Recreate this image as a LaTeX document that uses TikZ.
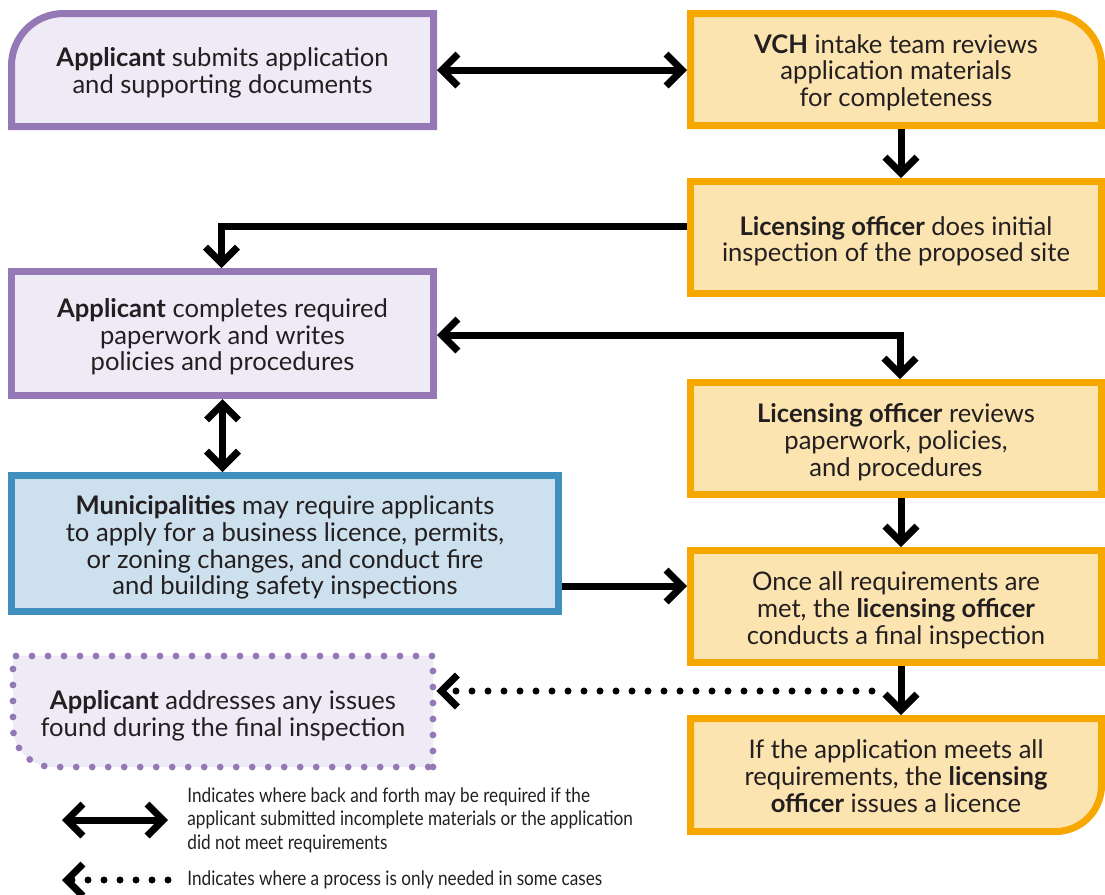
\documentclass[tikz,border=0pt]{standalone}
\usepackage{fontspec}
\setmainfont{Lato}
\newfontfamily\legendfont[FakeStretch=0.86]{Lato}
\usetikzlibrary{arrows.meta,backgrounds}

\definecolor{purpleline}{HTML}{9579B7}
\definecolor{purplefill}{HTML}{EFEBF6}
\definecolor{orangeline}{HTML}{F6A800}
\definecolor{orangefill}{HTML}{FCE4B0}
\definecolor{blueline}{HTML}{3F8FBF}
\definecolor{bluefill}{HTML}{CDE0EE}
\definecolor{ink}{HTML}{231F20}

\tikzset{
  frame/.style={inner sep=0pt, outer sep=1.75pt},
  steptext/.style={inner sep=0pt, align=center, text=ink,
    font=\fontsize{12.8}{13.4}\selectfont},
  purplebox/.style={frame, draw=purpleline, fill=purplefill, line width=3.5pt,
    minimum width=211pt},
  orangebox/.style={frame, draw=orangeline, fill=orangefill, line width=3.5pt,
    minimum width=205.5pt, minimum height=56pt},
  bluebox/.style={frame, draw=blueline, fill=bluefill, line width=3.5pt},
  pshape/.style={draw=purpleline, fill=purplefill, line width=3.5pt},
  oshape/.style={draw=orangeline, fill=orangefill, line width=3.5pt},
  dotshape/.style={draw=purpleline, fill=purplefill, line width=3.4pt,
    line cap=round, dash pattern=on 0pt off 8pt},
  chev/.tip={Straight Barb[length=8pt,width=16pt,sharp]},
  flow/.style={draw=black, line width=3.5pt, -chev},
  both/.style={draw=black, line width=3.5pt, chev-chev},
  maybe/.style={draw=black, line width=3.5pt, line cap=round,
    dash pattern=on 0pt off 8pt, -chev},
  legendtext/.style={inner sep=0pt, anchor=west, align=left, text=ink,
    font=\legendfont\fontsize{10}{11.75}\selectfont},
}

\begin{document}
\begin{tikzpicture}[x=0.5pt, y=-0.5pt]
\useasboundingbox (0,0) rectangle (1105,895);

% frames of the steps
\node[frame, minimum width=211pt, minimum height=56.5pt] (B1) at (222.5,70) {};
\node[frame, minimum width=205.5pt, minimum height=56pt] (B2) at (896,69.5) {};
\node[orangebox] (B3) at (896,237.5) {};
\node[purplebox, minimum height=62pt] (B4) at (222.5,333.5) {};
\node[orangebox] (B5) at (896,438.5) {};
\node[bluebox, minimum width=273.5pt, minimum height=68pt] (B6) at (285,543.5) {};
\node[orangebox] (B7) at (896,606.5) {};
\node[frame, outer sep=1.7pt, minimum width=210pt, minimum height=55.5pt] (B8) at (223,711.5) {};
\node[frame, minimum width=205.5pt, minimum height=56.5pt] (B9) at (896,775) {};

% frames with one rounded corner
\begin{scope}[on background layer]
  \path[pshape] ([shift={(1.75pt,1.75pt)}]B1.south west)
    -- ([shift={(1.75pt,-27.75pt)}]B1.north west)
    arc[start angle=180, end angle=90, radius=26pt]
    -- ([shift={(-1.75pt,-1.75pt)}]B1.north east)
    -- ([shift={(-1.75pt,1.75pt)}]B1.south east) -- cycle;
  \path[oshape] ([shift={(1.75pt,1.75pt)}]B2.south west)
    -- ([shift={(1.75pt,-1.75pt)}]B2.north west)
    -- ([shift={(-27.75pt,-1.75pt)}]B2.north east)
    arc[start angle=90, end angle=0, radius=26pt]
    -- ([shift={(-1.75pt,1.75pt)}]B2.south east) -- cycle;
  \path[dotshape] ([shift={(-1.7pt,1.7pt)}]B8.south east)
    -- ([shift={(-1.7pt,-1.7pt)}]B8.north east)
    -- ([shift={(1.7pt,-1.7pt)}]B8.north west)
    -- ([shift={(1.7pt,21.7pt)}]B8.south west)
    arc[start angle=180, end angle=270, radius=20pt] -- cycle;
  \path[oshape] ([shift={(1.75pt,1.75pt)}]B9.south west)
    -- ([shift={(1.75pt,-1.75pt)}]B9.north west)
    -- ([shift={(-1.75pt,-1.75pt)}]B9.north east)
    -- ([shift={(-1.75pt,24.75pt)}]B9.south east)
    arc[start angle=0, end angle=-90, radius=23pt] -- cycle;
\end{scope}

% texts of the steps
\node[steptext] (B1t) at ([yshift=-1.6pt]B1.center)
  {\textbf{Applicant} submits application\\and supporting documents};
\node[steptext] (B2t) at ([yshift=-1.6pt]B2.center)
  {\textbf{VCH} intake team reviews\\application materials\\for completeness};
\node[steptext] (B3t) at ([yshift=-1.8pt]B3.center)
  {\textbf{Licensing officer} does initial\\inspection of the proposed site};
\node[steptext] (B4t) at ([yshift=-1.6pt]B4.center)
  {\textbf{Applicant} completes required\\paperwork and writes\\policies and procedures};
\node[steptext] (B5t) at ([yshift=-1.8pt]B5.center)
  {\textbf{Licensing officer} reviews\\paperwork, policies,\\and procedures};
\node[steptext] (B6t) at ([yshift=-2pt]B6.center)
  {\textbf{Municipalities} may require applicants\\to apply for a business licence, permits,\\or zoning changes, and conduct fire\\and building safety inspections};
\node[steptext] (B7t) at ([yshift=-1.8pt]B7.center)
  {Once all requirements are\\met, the \textbf{licensing officer}\\conducts a final inspection};
\node[steptext] (B8t) at ([yshift=-2pt]B8.center)
  {\textbf{Applicant} addresses any issues\\found during the final inspection};
\node[steptext] (B9t) at ([yshift=-0.5pt]B9.center)
  {If the application meets all\\requirements, the \textbf{licensing}\\\textbf{officer} issues a licence};

% connectors
\draw[both] (B1.east) -- (B1.east -| B2.west);
\draw[flow] ([xshift=2.5pt]B2.south) -- ([xshift=2.5pt]B3.north);
\draw[flow] ([yshift=5.5pt]B3.west) -| ([xshift=-0.5pt]B4.north);
\draw[both] ([yshift=-0.75pt]B4.east) -| ([xshift=2pt]B5.north);
\draw[both] (B4.south) -- (B4.south |- B6.north);
\draw[flow] ([xshift=2.5pt]B5.south) -- ([xshift=2.5pt]B7.north);
\draw[flow] ([yshift=-21.25pt]B6.east) -- ([yshift=-21.25pt]B6.east -| B7.west);
\draw[flow] ([xshift=2.5pt]B7.south) -- ([xshift=2.5pt]B9.north);
\coordinate (maybestart) at (872,691);
\draw[maybe] (maybestart) -- (maybestart -| B8.east);

% legend
\coordinate (la) at (62,820);
\coordinate (lb) at (168,820);
\draw[both] (la) -- (lb);
\node[legendtext] (lt1) at (187,820)
  {Indicates where back and forth may be required if the\\applicant submitted incomplete materials or the application\\did not meet requirements};
\coordinate (lc) at (62,880);
\coordinate (ld) at (168,880);
\draw[maybe] (ld) -- (lc);
\node[legendtext] (lt2) at (187,880)
  {Indicates where a process is only needed in some cases};
\end{tikzpicture}
\end{document}
